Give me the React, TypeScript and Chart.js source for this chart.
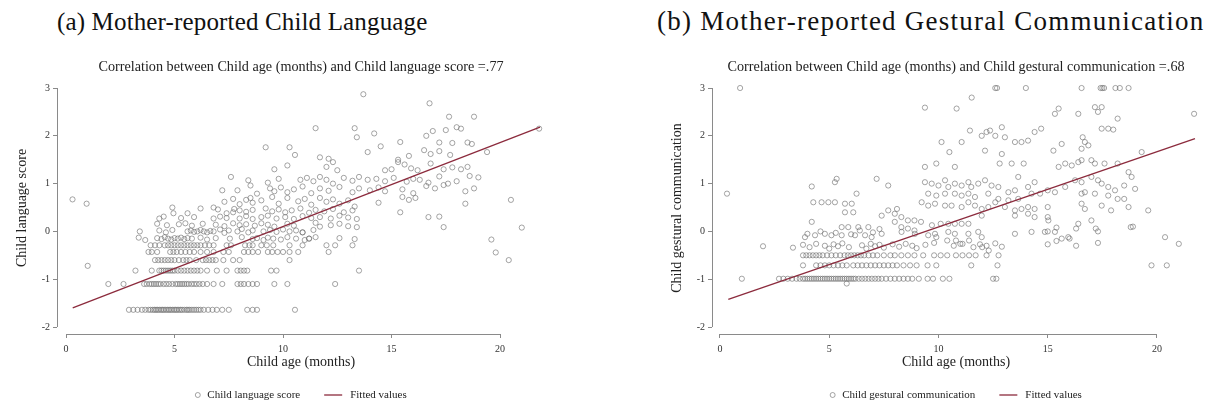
import React, { useEffect, useRef } from "react";
import { Chart, registerables } from "chart.js";

Chart.register(...registerables);

const FONT = "'Liberation Serif', 'Times New Roman', serif";
const POINT = "rgba(110,110,110,0.78)";
const MAROON = "#8c2b3d";
const AXIS = "#8a8a8a";
const TEXT = "#222";

// shared axis ticks
const ageTicks = [0, 5, 10, 15, 20];
const scoreTicks = [-2, -1, 0, 1, 2, 3];

// ---------- Panel (a): Child language score ----------
// rows of identical scores: [score, ages]
const langBandRows: [number, number[]][] = [
  [-1.64, [2.9, 3.1, 3.3, 3.5, 3.65, 3.8, 3.9, 4.0, 4.08, 4.15, 4.22, 4.3, 4.38, 4.45, 4.52, 4.6, 4.68, 4.75, 4.82, 4.9, 4.98, 5.05, 5.12, 5.2, 5.28, 5.35, 5.45, 5.55, 5.62, 5.7, 5.8, 5.9, 6.0, 6.1, 6.2, 6.35, 6.55, 6.75, 6.95, 7.2, 7.5, 8.35, 8.6, 8.8, 10.55]],
  [-1.1, [1.95, 2.65, 3.6, 3.72, 3.85, 3.95, 4.05, 4.15, 4.25, 4.35, 4.5, 4.62, 4.75, 4.9, 5.05, 5.15, 5.25, 5.35, 5.45, 5.55, 5.65, 5.78, 5.9, 6.02, 6.15, 6.3, 6.5, 6.8, 7.2, 7.9, 8.05, 8.2, 8.4, 8.6, 8.8, 9.6, 10.2, 12.4]],
  [-0.82, [3.2, 3.95, 4.3, 4.4, 4.5, 4.6, 4.7, 4.8, 4.9, 5.0, 5.15, 5.3, 5.45, 5.6, 5.75, 5.9, 6.05, 6.2, 6.5, 6.95, 7.4, 7.9, 8.05, 8.2, 8.35, 9.45, 9.7, 13.5]],
  [-0.6, [4.1, 4.25, 4.4, 4.55, 4.7, 4.85, 5.0, 5.2, 5.4, 5.55, 5.7, 6.0, 6.3, 6.45, 6.6, 6.75, 6.9, 7.25, 7.7, 8.0, 10.3]],
  [-0.43, [3.8, 3.95, 4.2, 4.8, 4.95, 5.1, 5.3, 5.5, 5.7, 5.9, 6.2, 6.5, 6.8, 7.25, 7.5, 8.2, 8.4, 8.6, 8.85, 9.3, 9.5, 9.75, 10.0, 10.3, 10.7, 12.1]],
  [-0.29, [3.9, 4.1, 4.3, 4.55, 4.7, 4.85, 5.0, 5.15, 5.3, 5.45, 5.6, 5.75, 5.9, 6.05, 6.2, 6.4, 6.6, 6.8, 7.4, 7.6, 8.25, 8.45, 8.6, 9.0, 9.25, 9.55, 10.3, 10.9, 12.0, 12.4, 13.2]],
];

// scattered observations: [age, score]
const langCloud: [number, number][] = [
  [0.3, 0.67], [0.95, 0.58], [1.0, -0.72],
  [3.35, -0.13], [3.65, -0.18], [4.2, -0.14], [4.4, -0.16], [4.55, -0.12], [4.7, -0.15], [4.85, -0.17], [5.0, -0.14], [5.15, -0.15], [5.3, -0.13], [5.45, -0.16], [5.6, -0.14], [5.8, -0.15], [6.2, -0.13], [6.5, -0.17], [6.9, -0.14], [7.55, -0.15], [8.1, -0.12], [8.6, -0.16], [8.8, -0.14], [9.1, -0.18], [9.3, -0.13], [9.55, -0.15], [9.9, -0.17], [10.2, -0.12], [10.6, -0.15], [11.0, -0.18], [11.2, -0.15], [11.5, -0.12], [12.6, -0.14], [13.3, -0.16],
  [3.4, 0.0], [4.3, 0.02], [4.6, -0.02], [4.9, 0.03], [5.6, 0.0], [5.75, 0.02], [5.9, -0.01], [6.05, 0.0], [6.2, 0.03], [6.35, 0.0], [6.5, -0.02], [6.65, 0.01], [6.8, 0.0], [7.1, 0.04], [7.3, -0.03], [7.5, 0.02], [7.9, 0.0], [8.1, 0.05], [8.4, -0.02], [8.6, 0.02], [9.1, 0.0], [9.4, 0.03], [9.7, -0.01], [10.0, 0.04], [10.3, 0.0], [10.6, 0.02], [10.9, -0.02], [11.4, 0.03],
  [4.2, 0.16], [4.65, 0.13], [5.2, 0.15], [5.5, 0.17], [5.8, 0.12], [6.3, 0.16], [6.9, 0.14], [7.3, 0.11], [7.7, 0.17], [8.0, 0.13], [8.3, 0.15], [8.7, 0.12], [9.0, 0.17], [9.3, 0.14], [9.6, 0.1], [10.2, 0.16], [10.5, 0.12], [11.5, 0.18], [11.7, 0.1], [12.2, 0.13], [12.6, 0.16], [13.0, 0.11], [13.4, 0.09],
  [4.3, 0.27], [4.5, 0.31], [5.3, 0.28], [5.9, 0.3], [6.8, 0.27], [7.1, 0.31], [7.4, 0.28], [8.0, 0.27], [8.3, 0.32], [8.6, 0.26], [9.0, 0.3], [9.3, 0.33], [9.7, 0.27], [10.1, 0.3], [10.5, 0.26], [10.9, 0.32], [11.3, 0.28], [11.7, 0.3], [12.2, 0.27], [12.6, 0.33], [13.0, 0.29], [13.4, 0.26], [16.7, 0.3], [17.2, 0.31],
  [4.9, 0.5], [4.95, 0.38], [5.6, 0.38], [6.2, 0.48], [6.8, 0.5], [7.0, 0.46], [7.4, 0.38], [7.7, 0.4], [7.75, 0.47], [8.0, 0.44], [8.3, 0.41], [8.6, 0.45], [9.2, 0.48], [9.5, 0.42], [9.8, 0.46], [10.1, 0.4], [10.4, 0.44], [10.8, 0.48], [11.2, 0.39], [11.5, 0.45], [11.9, 0.42], [12.3, 0.47], [12.8, 0.4], [13.2, 0.44], [15.4, 0.4],
  [7.3, 0.62], [7.7, 0.68], [8.0, 0.57], [8.3, 0.66], [8.5, 0.7], [8.6, 0.6], [9.0, 0.65], [9.5, 0.72], [9.8, 0.58], [10.2, 0.7], [10.7, 0.63], [11.0, 0.68], [11.3, 0.56], [11.7, 0.7], [12.0, 0.62], [12.3, 0.67], [12.6, 0.58], [13.0, 0.65], [13.3, 0.52], [14.4, 0.6], [15.5, 0.72], [15.8, 0.66], [16.1, 0.7], [18.4, 0.58], [20.5, 0.66],
  [7.2, 0.86], [7.9, 0.86], [8.5, 0.96], [8.8, 0.79], [9.4, 0.9], [9.6, 0.84], [9.9, 0.92], [10.2, 0.82], [10.5, 0.88], [10.9, 0.94], [11.3, 0.8], [11.7, 0.9], [12.1, 0.85], [12.6, 0.93], [13.2, 0.82], [13.5, 0.9], [14.0, 0.86], [14.4, 0.92], [14.7, 0.84], [15.5, 0.88], [16.0, 0.8], [16.6, 0.95], [17.0, 0.9], [17.4, 0.97], [18.4, 0.84], [18.8, 0.9],
  [7.6, 1.14], [8.4, 1.07], [9.3, 1.02], [9.8, 1.1], [10.8, 1.08], [11.1, 1.12], [11.4, 1.05], [11.7, 1.14], [12.0, 1.08], [12.3, 1.0], [12.8, 1.12], [13.2, 1.06], [13.5, 1.14], [13.9, 1.08], [14.3, 1.1], [14.7, 1.05], [15.1, 1.12], [15.7, 1.04], [16.0, 1.1], [16.3, 1.08], [16.7, 1.02], [17.2, 1.15], [17.6, 1.0], [18.0, 1.05], [18.6, 1.16], [19.0, 1.13],
  [9.6, 1.3], [10.2, 1.38], [11.7, 1.55], [12.0, 1.35], [12.3, 1.45], [12.5, 1.28], [14.7, 1.28], [15.0, 1.3], [15.3, 1.45], [15.6, 1.4], [15.9, 1.32], [16.2, 1.28], [16.8, 1.42], [17.4, 1.3], [17.8, 1.34], [18.2, 1.3], [18.5, 1.35],
  [9.2, 1.76], [10.3, 1.76], [10.55, 1.6], [12.1, 1.52], [13.9, 1.66], [15.3, 1.5], [15.8, 1.58], [16.5, 1.7], [16.8, 1.62], [17.2, 1.68], [17.7, 1.6], [19.4, 1.66],
  [11.5, 2.16], [13.3, 2.16], [13.4, 1.97], [14.2, 2.05], [14.5, 1.78], [15.4, 1.87], [16.6, 2.0], [16.9, 2.1], [17.2, 1.86], [17.5, 2.12], [17.8, 1.85], [18.0, 2.18], [18.2, 2.15], [18.5, 1.86], [18.7, 1.83], [21.8, 2.15],
  [13.7, 2.87], [16.75, 2.68], [17.65, 2.4], [18.8, 2.4],
  [19.6, -0.17], [19.8, -0.44], [20.4, -0.6], [21.0, 0.08], [17.4, 0.09], [11.2, -0.15], [10.9, -0.02],
];

const langFitAge = [0.31, 21.84];
const langFitScore = [-1.6, 2.18];

// ---------- Panel (b): Child gestural communication ----------
const gestBandRows: [number, number[]][] = [
  [-0.99, [1.0, 2.7, 2.9, 3.1, 3.3, 3.5, 3.65, 3.8, 3.9, 4.0, 4.1, 4.2, 4.3, 4.4, 4.5, 4.6, 4.7, 4.8, 4.9, 5.0, 5.1, 5.2, 5.3, 5.4, 5.5, 5.6, 5.7, 5.8, 5.9, 6.0, 6.1, 6.2, 6.35, 6.5, 6.65, 6.8, 6.95, 7.1, 7.25, 7.4, 7.6, 7.8, 8.0, 8.2, 8.4, 8.6, 8.8, 9.1, 9.5, 9.75, 10.2, 10.5, 12.5, 12.65]],
  [-1.09, [5.8]],
  [-0.71, [3.8, 4.4, 4.6, 4.8, 5.0, 5.2, 5.4, 5.6, 5.8, 6.1, 6.3, 6.5, 6.7, 6.9, 7.1, 7.3, 7.5, 7.7, 7.9, 8.1, 8.4, 8.7, 9.0, 9.5, 9.9, 11.5, 12.7, 19.75, 20.45]],
  [-0.5, [3.8, 3.95, 4.1, 4.25, 4.4, 4.55, 4.7, 4.9, 5.1, 5.3, 5.5, 5.7, 5.85, 6.0, 6.15, 6.3, 6.45, 6.6, 6.8, 7.0, 7.2, 7.5, 7.8, 8.0, 8.3, 8.6, 8.9, 9.3, 9.8, 10.1, 10.4, 10.8, 11.1, 11.4, 11.7, 12.2, 12.75]],
  [3.0, [0.92, 12.6, 12.68, 14.0, 16.55, 17.42, 17.5, 17.58, 18.1, 18.3, 18.7]],
];

const gestCloud: [number, number][] = [
  [0.32, 0.79],
  [1.97, -0.31], [3.34, -0.34], [3.8, -0.28], [4.1, -0.33], [4.4, -0.26], [4.8, -0.3], [5.0, -0.36], [5.2, -0.27], [5.4, -0.31], [5.6, -0.25], [5.9, -0.33], [6.5, -0.29], [6.7, -0.36], [6.9, -0.26], [7.1, -0.31], [7.3, -0.28], [7.5, -0.34], [7.9, -0.27], [8.2, -0.32], [8.5, -0.26], [8.8, -0.3], [9.0, -0.35], [9.4, -0.28], [9.8, -0.24], [10.7, -0.3], [11.0, -0.26], [11.6, -0.33], [11.9, -0.27], [12.2, -0.3], [12.6, -0.25], [12.9, -0.32], [15.0, -0.27], [15.4, -0.2], [16.0, -0.15], [16.3, -0.3], [17.3, -0.24], [21.0, -0.26],
  [3.89, -0.12], [4.0, -0.05], [4.35, -0.08], [4.6, 0.0], [4.8, -0.05], [5.1, -0.08], [5.3, -0.03], [5.57, -0.08], [6.0, -0.06], [6.18, -0.08], [6.4, 0.02], [6.64, -0.08], [6.94, -0.12], [7.0, -0.02], [7.3, 0.05], [7.4, -0.05], [8.31, -0.01], [8.92, -0.05], [9.53, -0.08], [9.84, -0.05], [10.45, -0.01], [10.75, -0.05], [11.37, -0.05], [11.82, -0.01], [11.98, -0.12], [13.5, -0.05], [14.26, -0.01], [14.87, -0.01], [15.0, 0.0], [15.33, -0.01], [15.64, -0.15], [15.94, -0.12], [16.3, 0.06], [17.3, 0.0], [18.9, 0.1], [20.37, -0.12],
  [8.0, 0.2], [8.3, 0.09], [8.6, 0.06], [8.9, 0.02], [9.9, -0.12], [10.4, -0.19], [10.8, -0.19], [11.1, -0.26], [11.4, -0.19], [12.0, -0.33], [12.3, -0.4],
  [4.2, 0.2], [5.57, 0.09], [5.87, 0.09], [6.33, 0.09], [6.79, 0.09], [7.4, 0.33], [8.0, 0.37], [8.3, 0.3], [8.6, 0.23], [8.9, 0.23], [9.2, 0.2], [9.7, 0.13], [10.1, 0.16], [10.45, 0.16], [10.75, 0.16], [11.06, 0.16], [11.37, 0.16], [11.98, 0.33], [13.5, 0.33], [14.1, 0.37], [14.4, 0.3], [15.0, 0.3], [15.03, 0.23], [15.4, 0.08], [16.4, 0.16], [17.0, 0.23], [17.2, 0.06], [18.8, 0.09],
  [4.27, 0.61], [4.65, 0.61], [4.96, 0.61], [5.26, 0.61], [5.72, 0.58], [6.03, 0.58], [5.72, 0.4], [6.1, 0.4], [7.7, 0.44], [8.1, 0.47], [9.23, 0.61], [9.53, 0.54], [9.84, 0.58], [10.3, 0.54], [10.6, 0.54], [11.06, 0.51], [11.37, 0.61], [11.67, 0.54], [11.98, 0.47], [12.28, 0.51], [12.6, 0.61], [13.04, 0.51], [13.5, 0.44], [13.8, 0.47], [14.1, 0.51], [14.4, 0.47], [15.0, 0.51], [16.55, 0.58], [16.7, 0.47], [17.47, 0.54], [17.9, 0.44], [18.7, 0.51], [19.6, 0.44],
  [6.25, 0.79], [9.53, 0.79], [9.9, 0.75], [10.3, 0.79], [10.75, 0.79], [11.06, 0.75], [11.37, 0.79], [11.67, 0.72], [12.28, 0.79], [12.74, 0.68], [13.2, 0.65], [13.65, 0.68], [14.26, 0.79], [14.65, 0.79], [16.55, 0.79], [16.7, 0.82], [17.16, 0.79], [17.77, 0.75], [18.2, 0.68], [18.5, 0.68],
  [4.2, 0.94], [5.26, 1.03], [5.34, 1.1], [7.17, 1.1], [7.7, 0.96], [9.38, 1.03], [9.69, 1.0], [10.0, 0.96], [10.3, 1.07], [10.45, 0.93], [10.75, 1.0], [11.06, 0.96], [11.37, 1.03], [11.5, 0.93], [11.82, 1.0], [12.13, 1.07], [12.43, 0.96], [12.74, 0.93], [13.2, 0.82], [13.5, 0.86], [13.65, 1.14], [14.1, 0.93], [14.4, 1.03], [15.0, 0.86], [15.33, 0.82], [15.8, 0.93], [16.25, 1.07], [16.55, 1.03], [17.0, 1.14], [17.3, 1.07], [17.47, 1.0], [17.77, 0.93], [18.08, 0.86], [18.5, 0.96], [19.0, 0.89],
  [9.38, 1.35], [9.9, 1.42], [10.75, 1.35], [12.8, 1.42], [13.35, 1.42], [13.9, 1.42], [15.5, 1.35], [15.8, 1.42], [16.1, 1.38], [16.4, 1.45], [16.55, 1.49], [17.0, 1.49], [17.16, 1.42], [17.6, 1.42], [18.2, 1.42], [18.7, 1.24], [18.84, 1.14], [19.3, 1.66],
  [10.14, 1.87], [11.06, 1.87], [10.5, 1.66], [12.13, 1.69], [12.9, 1.62], [13.5, 1.87], [13.8, 1.87], [14.1, 1.9], [15.26, 1.69], [15.64, 1.83], [16.55, 1.73], [16.6, 1.97], [16.7, 1.87], [16.86, 1.8],
  [11.44, 2.11], [11.98, 2.0], [12.2, 2.08], [12.36, 2.11], [12.6, 2.0], [12.9, 2.18], [13.04, 1.97], [14.4, 2.08], [14.7, 2.15], [17.47, 2.15], [17.77, 2.15], [18.0, 2.13],
  [9.38, 2.59], [10.83, 2.57], [11.52, 2.8], [15.33, 2.46], [15.5, 2.57], [16.4, 2.46], [17.16, 2.6], [17.3, 2.5], [17.47, 2.6], [18.2, 2.36], [21.7, 2.46],
];

const gestFitAge = [0.38, 21.74];
const gestFitScore = [-1.42, 1.94];

type PanelProps = {
  bandRows: [number, number[]][];
  cloud: [number, number][];
  fitAge: number[];
  fitScore: number[];
  subtitle: string;
  yTitle: string;
  scatterLabel: string;
  width: number;
  rightPad: number;
  xMin: number;
  xMax: number;
};

function Panel(p: PanelProps) {
  const ref = useRef<HTMLCanvasElement | null>(null);
  useEffect(() => {
    if (!ref.current) return;
    const pts: { x: number; y: number }[] = [];
    p.bandRows.forEach(([score, ages]) => ages.forEach((a) => pts.push({ x: a, y: score })));
    p.cloud.forEach(([a, s]) => pts.push({ x: a, y: s }));
    const fit = p.fitAge.map((a, i) => ({ x: a, y: p.fitScore[i] }));

    const decor = {
      id: "decor",
      afterDraw(chart: any) {
        const { ctx, chartArea, scales } = chart;
        const xs = scales.x;
        const ys = scales.y;
        ctx.save();
        ctx.strokeStyle = AXIS;
        ctx.lineWidth = 1;
        const ax = Math.round(chartArea.left) + 0.5;
        ctx.beginPath();
        ctx.moveTo(ax, ys.getPixelForValue(3));
        ctx.lineTo(ax, ys.getPixelForValue(-2));
        ctx.stroke();
        const ay = Math.round(chartArea.bottom) + 0.5;
        ctx.beginPath();
        ctx.moveTo(xs.getPixelForValue(0), ay);
        ctx.lineTo(xs.getPixelForValue(20), ay);
        ctx.stroke();

        const cx = (chartArea.left + chartArea.right) / 2;
        ctx.fillStyle = TEXT;
        ctx.font = `14.2px ${FONT}`;
        ctx.textAlign = "center";
        ctx.textBaseline = "middle";
        ctx.fillText(p.subtitle, cx, 27);

        ctx.font = `11px ${FONT}`;
        const fitLabel = chart.data.datasets[1].label;
        const w1 = ctx.measureText(p.scatterLabel).width;
        const w2 = ctx.measureText(fitLabel).width;
        const total = 5 + 7 + w1 + 24 + 18 + 8 + w2;
        let lx = cx - total / 2;
        const ly = 355;
        ctx.strokeStyle = POINT;
        ctx.lineWidth = 0.8;
        ctx.beginPath();
        ctx.arc(lx + 2.5, ly, 2.5, 0, Math.PI * 2);
        ctx.stroke();
        lx += 12;
        ctx.textAlign = "left";
        ctx.fillText(p.scatterLabel, lx, ly);
        lx += w1 + 24;
        ctx.strokeStyle = MAROON;
        ctx.lineWidth = 1.3;
        ctx.beginPath();
        ctx.moveTo(lx, ly);
        ctx.lineTo(lx + 18, ly);
        ctx.stroke();
        lx += 26;
        ctx.fillText(fitLabel, lx, ly);
        ctx.restore();
      },
    };

    const chart = new Chart(ref.current, {
      type: "scatter",
      data: {
        datasets: [
          {
            type: "scatter",
            label: p.scatterLabel,
            data: pts,
            pointStyle: "circle",
            pointRadius: 2.6,
            pointHoverRadius: 2.6,
            pointBorderWidth: 0.8,
            borderColor: POINT,
            backgroundColor: "rgba(0,0,0,0)",
            order: 2,
          } as any,
          {
            type: "line",
            label: "Fitted values",
            data: fit,
            borderColor: MAROON,
            borderWidth: 1.3,
            pointRadius: 0,
            fill: false,
            order: 1,
          } as any,
        ],
      },
      options: {
        animation: false,
        responsive: false,
        maintainAspectRatio: false,
        events: [],
        layout: { padding: { top: 42, right: p.rightPad, left: 0, bottom: 0 } },
        plugins: {
          legend: { display: false },
          title: { display: false },
          tooltip: { enabled: false },
        },
        scales: {
          x: {
            type: "linear",
            min: p.xMin,
            max: p.xMax,
            afterBuildTicks: (s: any) => {
              s.ticks = ageTicks.map((v) => ({ value: v }));
            },
            afterFit: (s: any) => {
              s.height = 75;
            },
            grid: { display: true, drawOnChartArea: false, drawTicks: true, tickLength: 4, color: AXIS, lineWidth: 1 },
            border: { display: false },
            ticks: { font: { family: FONT, size: 10 }, color: "#333", padding: 5, maxRotation: 0, autoSkip: false },
            title: {
              display: true,
              text: "Child age (months)",
              font: { family: FONT, size: 14 },
              color: TEXT,
              padding: { top: 0, bottom: 38 },
            },
          },
          y: {
            type: "linear",
            min: -2.146,
            max: 3.126,
            afterBuildTicks: (s: any) => {
              s.ticks = scoreTicks.map((v) => ({ value: v }));
            },
            afterFit: (s: any) => {
              s.width = 57;
            },
            grid: { display: true, drawOnChartArea: false, drawTicks: true, tickLength: 4, color: AXIS, lineWidth: 1 },
            border: { display: false },
            ticks: { font: { family: FONT, size: 10 }, color: "#333", padding: 3, autoSkip: false },
            title: {
              display: true,
              text: p.yTitle,
              font: { family: FONT, size: 14 },
              color: TEXT,
              padding: { top: 14, bottom: 0 },
            },
          },
        },
      } as any,
      plugins: [decor],
    });
    return () => chart.destroy();
  }, []);
  return <canvas ref={ref} width={p.width} height={369} style={{ width: p.width, height: 369, display: "block" }} />;
}

const captionStyle: React.CSSProperties = {
  position: "absolute",
  top: 5,
  fontFamily: FONT,
  fontSize: 27,
  lineHeight: "32px",
  letterSpacing: "1.25px",
  color: "#111",
  whiteSpace: "nowrap",
};

export default function App() {
  return (
    <div style={{ position: "absolute", left: 0, top: 0, width: 1211, height: 409, background: "#fff", overflow: "hidden" }}>
      <div style={{ ...captionStyle, left: 57, top: 6, fontSize: 25, letterSpacing: "0.15px" }}>(a) Mother-reported Child Language</div>
      <div style={{ ...captionStyle, left: 657 }}>(b) Mother-reported Gestural Communication</div>
      <div style={{ position: "absolute", left: 0, top: 40 }}>
        <Panel
          bandRows={langBandRows}
          cloud={langCloud}
          fitAge={langFitAge}
          fitScore={langFitScore}
          subtitle="Correlation between Child age (months) and Child language score =.77"
          yTitle="Child language score"
          scatterLabel="Child language score"
          width={655}
          rightPad={110}
          xMin={-0.415}
          xMax={22.07}
        />
      </div>
      <div style={{ position: "absolute", left: 655, top: 40 }}>
        <Panel
          bandRows={gestBandRows}
          cloud={gestCloud}
          fitAge={gestFitAge}
          fitScore={gestFitScore}
          subtitle="Correlation between Child age (months) and Child gestural communication =.68"
          yTitle="Child gestural communication"
          scatterLabel="Child gestural communication"
          width={556}
          rightPad={11}
          xMin={-0.366}
          xMax={21.97}
        />
      </div>
    </div>
  );
}
